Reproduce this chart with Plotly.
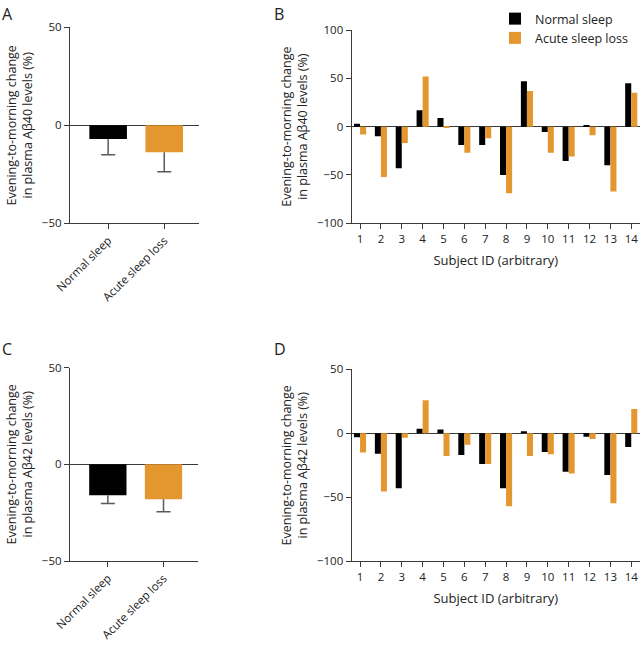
import plotly.graph_objects as go

W, H = 643, 648

# Panels A / C: group means with one-sided (downward) error bars
groups = ["Normal sleep", "Acute sleep loss"]
ab40_mean = [-7.0, -13.7]
ab40_err = [8.0, 10.0]
ab42_mean = [-16.0, -18.1]
ab42_err = [4.3, 6.4]

# Panels B / D: per-subject changes
subjects = list(range(1, 15))
ab40_normal = [3, -10, -43, 17, 9, -19, -19, -50, 47, -5.5, -35.5, 1, -40, 45]
ab40_acute = [-8, -52, -17, 52, -1, -27, -12, -69, 37, -27, -31, -9, -67, 35]
ab42_normal = [-3, -16, -43, 3.6, 3, -17, -24, -43, 1, -14.6, -30, -2.6, -32.6, -10.7]
ab42_acute = [-15, -45.5, -3.4, 25.8, -17.7, -9, -24, -57, -17.7, -16.4, -31.5, -4.4, -54.7, 19]

BLACK = "#000000"
ORANGE = "#E5972F"
AXIS = "#3a3a3a"
ERR = "#5a5a5a"
FONT = "Open Sans"


def xdom(l, r):
    return [l / W, r / W]


def ydom(t, b):
    return [1 - b / H, 1 - t / H]


fig = go.Figure()


def add_summary(means, errs, xa, ya):
    # bar with the downward stem only (no caps)
    fig.add_trace(go.Bar(
        x=[0, 1], y=means, width=0.67,
        marker=dict(color=[BLACK, ORANGE], line=dict(width=0)),
        error_y=dict(type="data", symmetric=False, array=[0, 0], arrayminus=errs,
                     color=ERR, thickness=1.5, width=0),
        showlegend=False, xaxis=xa, yaxis=ya))
    # cap at the lower end of each stem
    lows = [m - e for m, e in zip(means, errs)]
    fig.add_trace(go.Scatter(
        x=[0, 1], y=lows, mode="markers", marker=dict(size=1, opacity=0),
        error_y=dict(type="data", array=[0, 0], color=ERR, thickness=1.5, width=7),
        showlegend=False, hoverinfo="skip", xaxis=xa, yaxis=ya))


def add_subjects(normal, acute, xa, ya, legend):
    fig.add_trace(go.Bar(x=subjects, y=normal, name="Normal sleep",
                         marker=dict(color=BLACK, line=dict(width=0)),
                         showlegend=legend, xaxis=xa, yaxis=ya))
    fig.add_trace(go.Bar(x=subjects, y=acute, name="Acute sleep loss",
                         marker=dict(color=ORANGE, line=dict(width=0)),
                         showlegend=legend, xaxis=xa, yaxis=ya))


add_summary(ab40_mean, ab40_err, "x", "y")
add_subjects(ab40_normal, ab40_acute, "x2", "y2", True)
add_summary(ab42_mean, ab42_err, "x3", "y3")
add_subjects(ab42_normal, ab42_acute, "x4", "y4", False)

axis_common = dict(showline=True, linecolor=AXIS, linewidth=1.3, ticks="outside",
                   ticklen=5, tickwidth=1.3, tickcolor=AXIS, showgrid=False,
                   automargin=False,
                   tickfont=dict(family=FONT, size=11.5, color="#222"))

title40 = "Evening-to-morning change<br>in plasma Aβ40 levels (%)"
title42 = "Evening-to-morning change<br>in plasma Aβ42 levels (%)"
ytitle_font = dict(family=FONT, size=12.5, color="#222")


def yaxis(dom, rng, vals, title):
    return dict(axis_common, domain=dom, range=rng, tickvals=vals, zeroline=True,
                zerolinecolor=AXIS, zerolinewidth=1.2,
                title=dict(text=title, font=ytitle_font, standoff=6))


def xsummary(dom, anchor):
    return dict(axis_common, domain=dom, range=[-0.68, 1.62], tickvals=[0, 1],
                ticktext=groups, tickangle=-45, zeroline=False, anchor=anchor)


def xsubjects(dom, anchor):
    return dict(axis_common, domain=dom, range=[0.6, 14.42], tickvals=subjects,
                zeroline=False, anchor=anchor,
                title=dict(text="Subject ID (arbitrary)",
                           font=dict(ytitle_font, size=13), standoff=10))


fig.update_layout(
    width=W, height=H,
    margin=dict(l=0, r=0, t=0, b=0),
    paper_bgcolor="white", plot_bgcolor="white",
    barmode="group", bargap=0.42, bargroupgap=0,
    font=dict(family=FONT, color="#222"),
    xaxis=xsummary(xdom(70, 199), "y"),
    yaxis=yaxis(ydom(27.3, 223.3), [-50, 50], [-50, 0, 50], title40) | dict(anchor="x"),
    xaxis2=xsubjects(xdom(351.7, 640), "y2"),
    yaxis2=yaxis(ydom(30, 223.3), [-100, 100], [-100, -50, 0, 50, 100], title40) | dict(anchor="x2"),
    xaxis3=xsummary(xdom(70, 198), "y3"),
    yaxis3=yaxis(ydom(367.7, 561), [-50, 50], [-50, 0, 50], title42) | dict(anchor="x3"),
    xaxis4=xsubjects(xdom(351.7, 640), "y4"),
    yaxis4=yaxis(ydom(369.3, 561.3), [-100, 50], [-100, -50, 0, 50], title42) | dict(anchor="x4"),
    legend=dict(x=495 / W, y=1 - 4 / H, xanchor="left", yanchor="top",
                font=dict(family=FONT, size=12.5, color="#222"),
                bgcolor="rgba(0,0,0,0)", itemclick=False),
)

panel_letters = [("A", 0, 1), ("B", 272, 1), ("C", 0, 336), ("D", 272, 336)]
for label, px, py in panel_letters:
    fig.add_annotation(text=label, x=px / W, y=1 - py / H, xref="paper", yref="paper",
                       xanchor="left", yanchor="top", showarrow=False,
                       font=dict(family=FONT, size=16, color="#222"))

# the page's default body margin would push the 643px figure off the window
fig.write_html("out.html", config={"displayModeBar": False},
               post_script="document.body.style.margin = '0';")
